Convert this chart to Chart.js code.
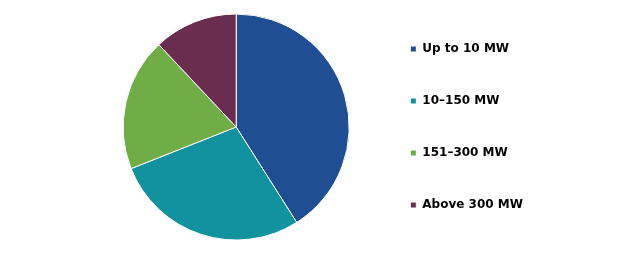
<!DOCTYPE html>
<html>
<head>
<meta charset="utf-8">
<script src="https://cdn.jsdelivr.net/npm/chart.js@4"></script>
<style>
  html, body { margin: 0; padding: 0; background: #fff; }
  #wrap { width: 620px; height: 256px; position: relative; }
</style>
</head>
<body>
<div id="wrap"><canvas id="chartPie"></canvas></div>
<script>
// dados (% por faixa de capacidade)
const categories = ["Up to 10 MW", "10–150 MW", "151–300 MW", "Above 300 MW"];
const shares = [41, 28, 19, 12];
const colors = ["#1f4e92", "#12929e", "#70ad47", "#6b2d4f"];

new Chart(document.getElementById("chartPie"), {
  type: "pie",
  data: {
    labels: categories,
    datasets: [{
      data: shares,
      backgroundColor: colors,
      borderColor: "#ffffff",
      borderWidth: 1,
      radius: 113
    }]
  },
  options: {
    responsive: true,
    maintainAspectRatio: false,
    animation: false,
    layout: { padding: { left: 102, right: 87, top: 2, bottom: 4 } },
    plugins: {
      tooltip: { enabled: false },
      legend: {
        position: "right",
        labels: {
          boxWidth: 6,
          boxHeight: 6,
          padding: 40,
          color: "#000",
          font: { family: "DejaVu Sans", size: 12, weight: "bold" }
        }
      }
    }
  }
});
</script>
</body>
</html>
